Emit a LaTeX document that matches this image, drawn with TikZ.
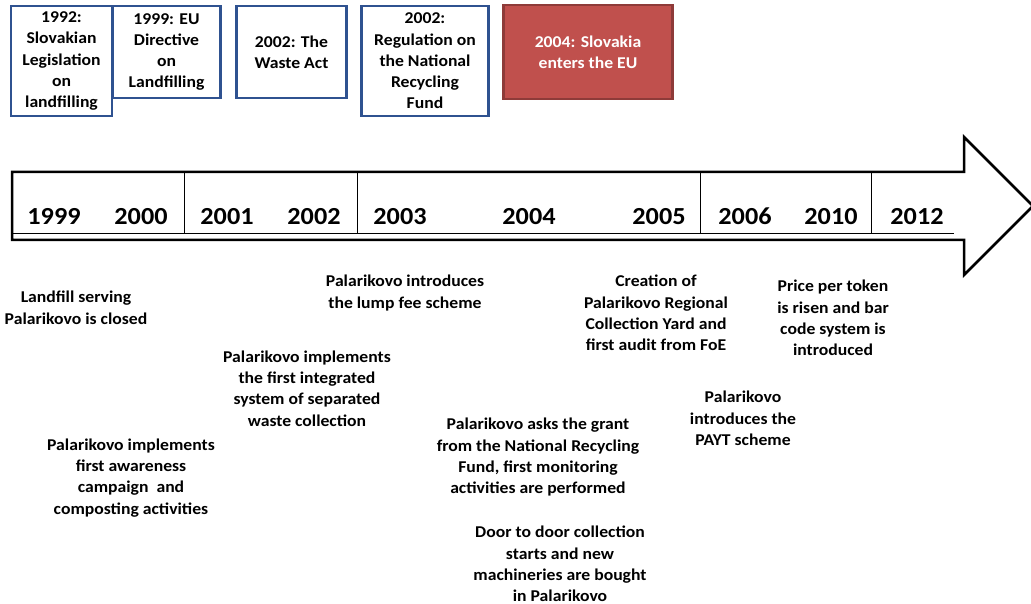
\documentclass[tikz,border=0pt]{standalone}
\usepackage{fontspec}
\setmainfont{Carlito}[FakeStretch=1.07]
\begin{document}
\begin{tikzpicture}[x=1pt,y=-1pt,
  evt/.style={font=\fontsize{16.5}{21.3}\selectfont\bfseries, align=center, inner sep=0pt, anchor=north},
  yr/.style={font=\fontsize{24.5}{24}\selectfont\bfseries, anchor=base, inner sep=0pt},
  law/.style={draw=lawblue, line width=2.5pt, fill=white, align=center, inner sep=0pt,
    font=\fontsize{16.5}{21.3}\selectfont\bfseries},
  eu/.style={draw=eured, fill=eufill, line width=2.5pt, align=center, inner sep=0pt,
    text=white, font=\fontsize{16.5}{21.3}\selectfont\bfseries},
  sep/.style={line width=0.8pt}]
\definecolor{lawblue}{HTML}{2F5290}
\definecolor{eufill}{HTML}{C0504D}
\definecolor{eured}{HTML}{8E3B39}
\useasboundingbox (0,0) rectangle (1031,604);
% arrow
\draw[line width=2.5pt, line join=miter] (12,172) -- (964,172) -- (964,137) -- (1033,206) -- (964,275) -- (964,240) -- (12,240) -- cycle;
% table lines
\coordinate (tl) at (12,233);
\coordinate (tr) at (954,233);
\draw[sep] (tl) -- (tr);
\foreach \x in {184,357,700,871} \draw[sep] (\x,172) -- (\x,233);
% years
\node[yr] (y1999) at (54,225) {1999};
\node[yr] (y2000) at (141,225) {2000};
\node[yr] (y2001) at (227,225) {2001};
\node[yr] (y2002) at (314,225) {2002};
\node[yr] (y2003) at (400,225) {2003};
\node[yr] (y2004) at (529,225) {2004};
\node[yr] (y2005) at (659,225) {2005};
\node[yr] (y2006) at (745,225) {2006};
\node[yr] (y2010) at (831,225) {2010};
\node[yr] (y2012) at (917,225) {2012};
% legislation boxes
\node[law, minimum width=101pt, minimum height=110pt] (b1) at (61.5,61) {1992:\\Slovakian\\Legislation\\on\\landfilling};
\node[law, minimum width=108pt, minimum height=92pt] (b2) at (166.5,52) {1999: EU\\Directive\\on\\Landfilling};
\node[law, minimum width=110pt, minimum height=92pt] (b3) at (291.5,52) {2002: The\\Waste Act};
\node[law, minimum width=127pt, minimum height=110pt] (b4) at (425,61) {2002:\\Regulation on\\the National\\Recycling\\Fund};
\node[eu, minimum width=169pt, minimum height=94pt] (b5) at (588,52) {2004: Slovakia\\enters the EU};
% events
\node[evt] (e1) at (76,291) {Landfill serving\\Palarikovo is closed};
\node[evt] (e2) at (131,438.5) {Palarikovo implements\\first awareness\\campaign~ and\\composting activities};
\node[evt] (e3) at (307,350.5) {Palarikovo implements\\the first integrated\\system of separated\\waste collection};
\node[evt] (e4) at (405,275) {Palarikovo introduces\\the lump fee scheme};
\node[evt] (e5) at (538,418) {Palarikovo asks the grant\\from the National Recycling\\Fund, first monitoring\\activities are performed};
\node[evt] (e6) at (560,526) {Door to door collection\\starts and new\\machineries are bought\\in Palarikovo};
\node[evt] (e7) at (656,275) {Creation of\\Palarikovo Regional\\Collection Yard and\\first audit from FoE};
\node[evt] (e8) at (743,391) {Palarikovo\\introduces the\\PAYT scheme};
\node[evt] (e9) at (833,280) {Price per token\\is risen and bar\\code system is\\introduced};
\end{tikzpicture}
\end{document}
